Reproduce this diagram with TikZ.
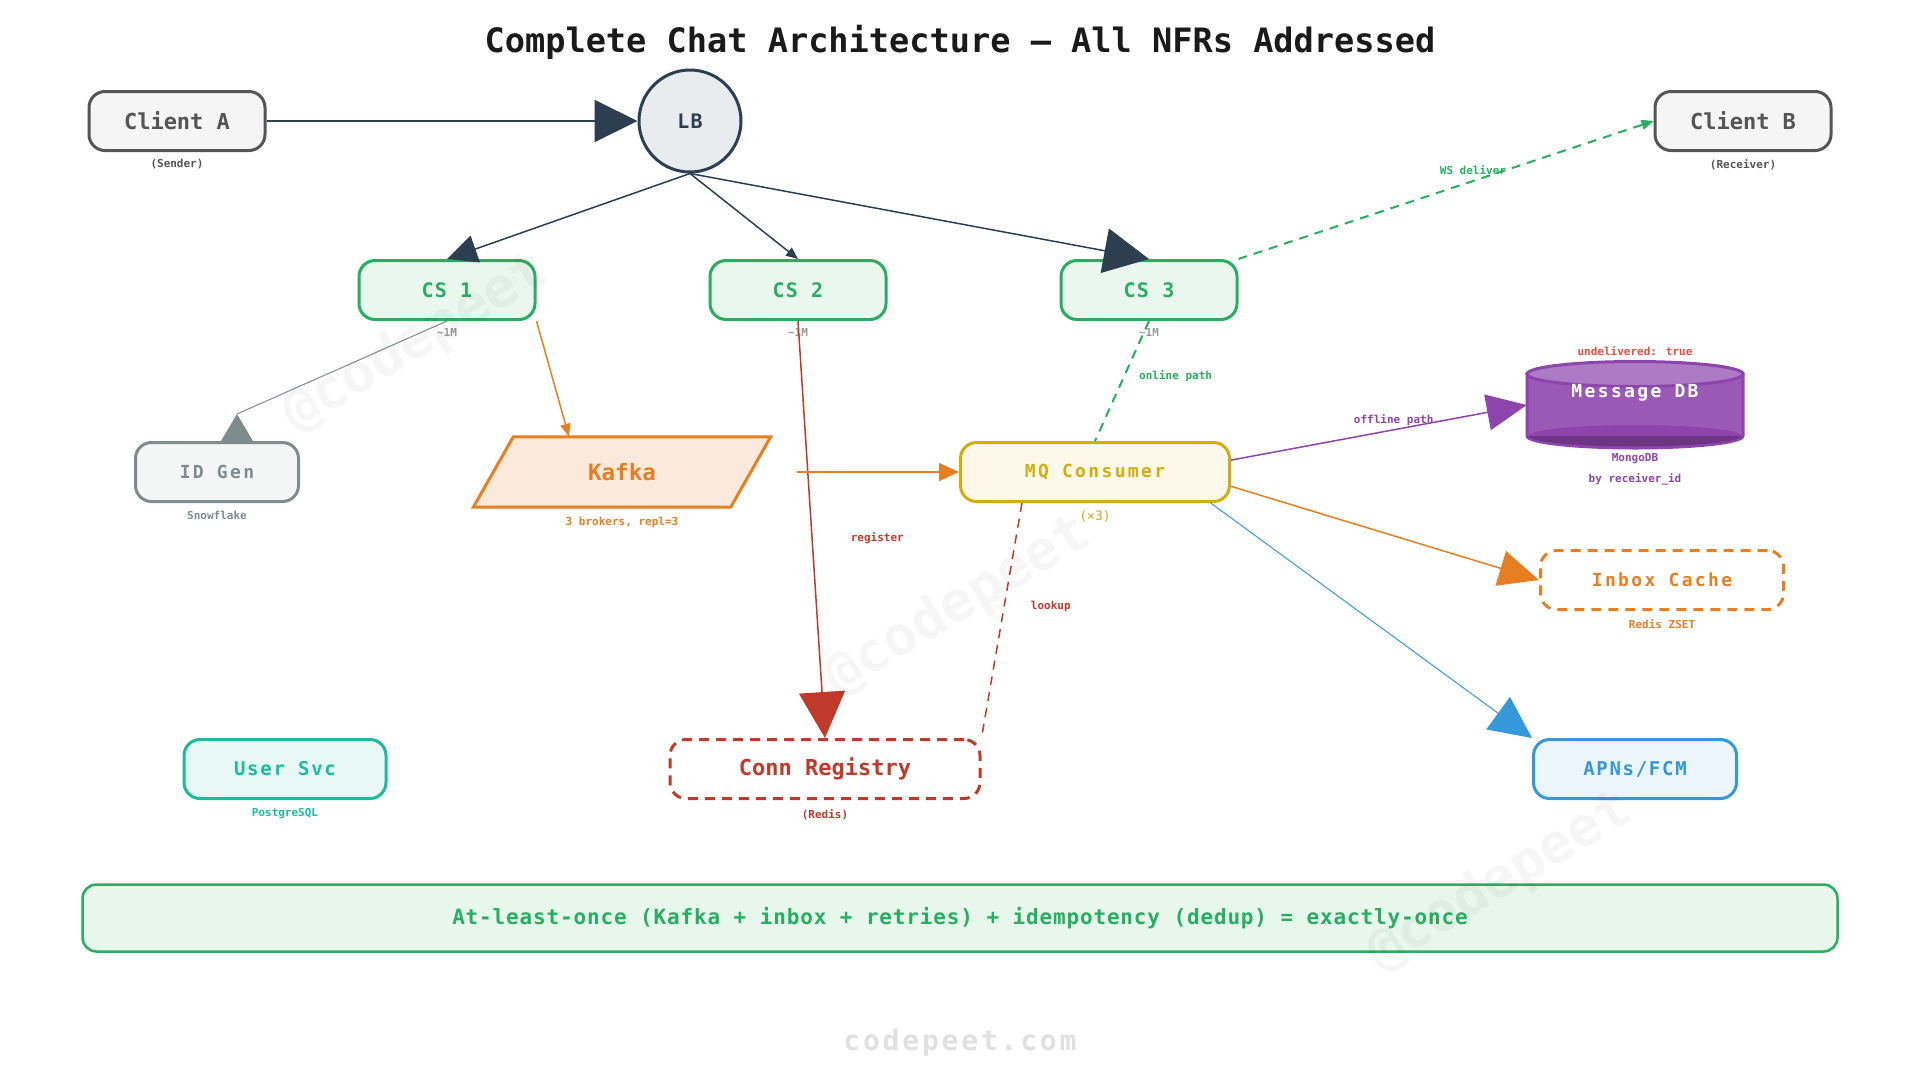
\documentclass[tikz,border=0pt]{standalone}
\usepackage{fontspec}
\newfontfamily\monofam{DejaVu Sans Mono}
\usetikzlibrary{arrows.meta,positioning}
\definecolor{ink}{HTML}{2C3E50}
\definecolor{titleink}{HTML}{1A1A1A}
\definecolor{lbfill}{HTML}{E9ECEF}
\definecolor{clientline}{HTML}{555555}
\definecolor{clientfill}{HTML}{F5F5F5}
\definecolor{csgreen}{HTML}{27AE60}
\definecolor{csfill}{HTML}{EAF7EF}
\definecolor{idgray}{HTML}{7F8C8D}
\definecolor{idfill}{HTML}{F4F5F5}
\definecolor{kafkaor}{HTML}{E67E22}
\definecolor{kafkafill}{HTML}{FBE9DB}
\definecolor{mqyel}{HTML}{D4AC0D}
\definecolor{mqfill}{HTML}{FDF8E9}
\definecolor{dbline}{HTML}{8E44AD}
\definecolor{dbbody}{HTML}{9B59B6}
\definecolor{dbtop}{HTML}{AD7BC6}
\definecolor{dbdark}{HTML}{6C3483}
\definecolor{apnsblue}{HTML}{3498DB}
\definecolor{apnsfill}{HTML}{EBF5FB}
\definecolor{userteal}{HTML}{1ABC9C}
\definecolor{userfill}{HTML}{E8F8F5}
\definecolor{connred}{HTML}{C0392B}
\definecolor{flagred}{HTML}{E74C3C}
\definecolor{bannerfill}{HTML}{E8F7EC}
\newcommand{\nf}[2]{\monofam\bfseries\fontsize{#1}{#1}\selectfont\addfontfeature{LetterSpace=#2}}
\tikzset{
  svc/.style={draw, rounded corners=16pt, line width=3pt, minimum height=59pt, inner sep=0pt, font=\nf{20}{6}},
  csnode/.style={svc, minimum width=176pt, draw=csgreen, fill=csfill, text=csgreen},
  clientnode/.style={svc, minimum width=176pt, draw=clientline, fill=clientfill, text=clientline, font=\nf{22}{0}},
  sub/.style={inner sep=0pt, font=\nf{11}{0}},
  wire/.style={line width=1.5pt},
  dashwire/.style={line width=1.5pt, dash pattern=on 9pt off 7pt},
  dashborder/.style={dash pattern=on 10pt off 7pt}
}
\begin{document}
\begin{tikzpicture}[x=1pt, y=-1pt]
\fill[white] (0,0) rectangle (1920,1080);
\useasboundingbox (0,0) rectangle (1920,1080);
\node[font=\nf{33.6}{0}, text=titleink] (title) at (960,42.5) {Complete Chat Architecture — All NFRs Addressed};

\node[clientnode] (clienta) at (177,121) {Client A};
\node[clientnode] (clientb) at (1743,121) {Client B};
\node[circle, draw=ink, fill=lbfill, line width=3pt, minimum size=102pt, inner sep=0pt, text=ink, font=\nf{20}{6}] (lb) at (690,121) {LB};
\node[csnode] (cs1) at (447,290) {CS 1};
\node[csnode] (cs2) at (798,290) {CS 2};
\node[csnode] (cs3) at (1149,290) {CS 3};
\node[svc, minimum width=163pt, draw=idgray, fill=idfill, text=idgray, font=\nf{18}{13}] (idgen) at (217,472) {ID Gen};
\node[minimum width=297pt, minimum height=70pt, inner sep=0pt] (kafka) at (622,472) {};
\filldraw[fill=kafkafill, draw=kafkaor, line width=3pt] (kafka.south west) -- ([xshift=40pt]kafka.north west)
  -- (kafka.north east) -- ([xshift=-40pt]kafka.south east) -- cycle;
\node[text=kafkaor, font=\nf{22.5}{0}] (kafkaname) at (kafka) {Kafka};
\node[svc, minimum width=269pt, draw=mqyel, fill=mqfill, text=mqyel, font=\nf{18}{13}] (mq) at (1095,472) {MQ Consumer};
\node[minimum width=216pt, minimum height=86pt, inner sep=0pt] (db) at (1635,405) {};
\filldraw[fill=dbbody, draw=dbline, line width=3pt] (1527,374) -- (1527,436) arc[start angle=180, end angle=0, x radius=108, y radius=12] -- (1743,374) -- cycle;
\fill[dbline] (1528.5,436) arc[start angle=180, end angle=360, x radius=106.5, y radius=11] -- cycle;
\fill[dbdark] (1528.5,436) arc[start angle=180, end angle=0, x radius=106.5, y radius=10.5] -- cycle;
\filldraw[fill=dbtop, draw=dbline, line width=3pt] (1635,374) ellipse[x radius=108, y radius=12.5];
\node[text=white, font=\nf{18}{13}] (dbname) at (1635,393) {Message DB};
\node[svc, dashborder, minimum width=243pt, draw=kafkaor, fill=white, text=kafkaor, font=\nf{18}{13}] (inbox) at (1662,580) {Inbox Cache};
\node[svc, minimum width=203pt, draw=apnsblue, fill=apnsfill, text=apnsblue, font=\nf{19}{9}] (apns) at (1635,769) {APNs/FCM};
\node[svc, minimum width=202pt, draw=userteal, fill=userfill, text=userteal, font=\nf{19}{9}] (usersvc) at (285,769) {User Svc};
\node[svc, dashborder, minimum width=310pt, draw=connred, fill=white, text=connred, font=\nf{22}{0}] (conn) at (825,769) {Conn Registry};
\node[svc, minimum width=1755pt, minimum height=67pt, rounded corners=14pt, line width=2.5pt, draw=csgreen, fill=bannerfill, text=csgreen, font=\nf{21}{4}] (banner) at (960,918) {At-least-once (Kafka + inbox + retries) + idempotency (dedup) = exactly-once};
\node[text=black!12, font=\nf{28}{10}] (footer) at (960,1043) {codepeet.com};

\node[sub, below=7pt of clienta, text=clientline] (sender) {(Sender)};
\node[sub, below=7pt of clientb, text=clientline] (receiver) {(Receiver)};
\foreach \c in {cs1,cs2,cs3}
  \node[sub, below=7pt of \c, text=black!40] (\c-load) {\textasciitilde1M};
\node[sub, below=8pt of idgen, text=idgray] (snowflake) {Snowflake};
\node[sub, below=10pt of kafka, text=kafkaor] (brokers) {3 brokers, repl=3};
\node[sub, below=7pt of mq, text=mqyel, font=\monofam\fontsize{13}{13}\selectfont] (replicas) {(×3)};
\node[sub, above=6pt of db, text=flagred] (flag) {undelivered: true};
\node[sub, below=5pt of db, text=dbline] (mongo) {MongoDB};
\node[sub, below=9pt of mongo, text=dbline] (shard) {by receiver\_id};
\node[sub, below=8pt of inbox, text=kafkaor] (zset) {Redis ZSET};
\node[sub, below=8pt of usersvc, text=userteal] (postgres) {PostgreSQL};
\node[sub, below=9pt of conn, text=connred] (redis) {(Redis)};

\draw[ink, line width=2pt, -{Triangle[length=43pt,width=42pt]}] (clienta) -- (lb);
\draw[ink, wire, -{Triangle[length=30pt,width=28pt]}] (lb.south) -- (cs1.north);
\draw[ink, wire, -{Triangle[length=12pt,width=10pt]}] (lb.south) -- (cs2.north);
\draw[ink, wire, -{Triangle[length=45pt,width=45pt]}] (lb.south) -- (cs3.north);
\draw[idgray, line width=1pt] (cs1.south) -- ([shift={(20,-27)}]idgen.north) coordinate (idtip);
\fill[idgray] (idtip) -- ([xshift=36pt]idgen.north) -- ([xshift=4pt]idgen.north) -- cycle;
\draw[kafkaor, wire, -{Triangle[length=13pt,width=10pt]}] (cs1.south east) -- ([xshift=-53pt]kafka.north);
\draw[connred, wire, -{Triangle[length=46pt,width=46pt]}] (cs2.south) -- (conn.north)
  node[sub, pos=0.52, right=38pt, text=connred] (register) {register};
\draw[kafkaor, wire, shorten <=26pt, -{Triangle[length=20pt,width=18pt]}] (kafka.east) -- (mq.west);
\draw[csgreen, dashwire, line width=2pt] (cs3.south) -- (mq.north)
  node[sub, pos=0.46, right=14pt, text=csgreen] (online) {online path};
\draw[csgreen, dashwire, line width=2pt, -{Triangle[length=12pt,width=10pt]}] (cs3.north east) -- (clientb.west)
  node[sub, pos=0.565, above=5pt, text=csgreen] (ws) {WS deliver};
\draw[dbline, wire, -{Triangle[length=40pt,width=36pt]}] (mq.5.5) -- (db.west)
  node[sub, pos=0.55, above=3pt, text=dbline] (offline) {offline path};
\draw[kafkaor, wire, -{Triangle[length=40pt,width=36pt]}] (mq.-6.4) -- (inbox.west);
\draw[apnsblue, line width=1pt, -{Triangle[length=42pt,width=40pt]}] (mq.-15.4) -- (apns.north west);
\draw[connred, dashwire] (mq.203.5) -- (conn.north east)
  node[sub, pos=0.44, right=26pt, text=connred] (lookup) {lookup};

\foreach \wx/\wy in {416/343, 958/606, 1500/882}
  \node[rotate=31, text=black, text opacity=0.035, font=\nf{55}{0}] (wm-\wx) at (\wx,\wy) {@codepeet};
\end{tikzpicture}
\end{document}
